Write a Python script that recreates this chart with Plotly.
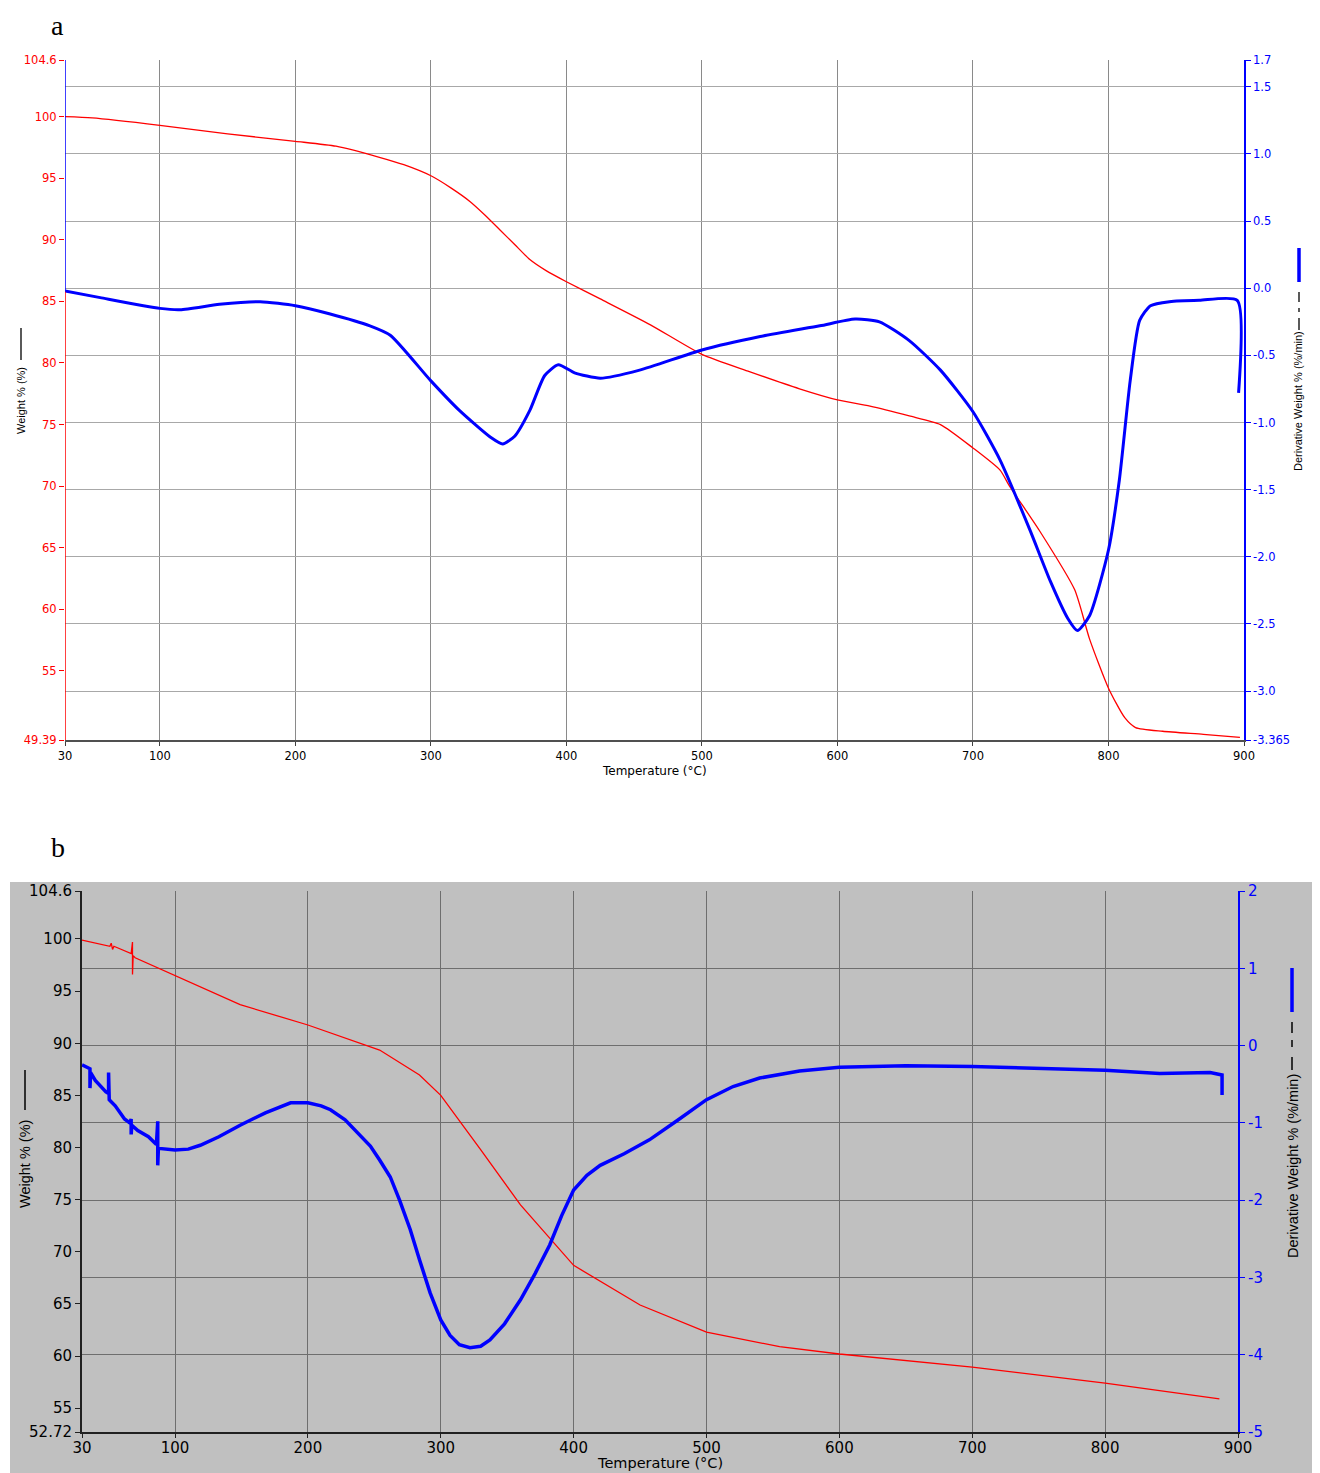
import plotly.graph_objects as go

# page body has an 8px margin, so the figure is 8px smaller and coordinates are shifted by 8px
OFF = 8
W, H = 1320 - OFF, 1473 - OFF

# ---------------- Panel a data ----------------
a_weight_T = [30, 50, 100, 150, 200, 230, 262, 280, 300, 315, 329, 340, 351, 362, 373, 385, 400, 425,
              462, 500, 535, 572, 600, 624, 653, 676, 700, 720, 727, 749, 775, 786, 800, 812, 820, 840, 870, 897]
a_weight = [100.0, 99.9, 99.3, 98.6, 98.0, 97.6, 96.7, 96.1, 95.2, 94.2, 93.1, 92.0, 90.8, 89.6, 88.4, 87.5, 86.6, 85.2,
            83.1, 80.7, 79.3, 77.9, 77.0, 76.5, 75.7, 75.0, 73.1, 71.3, 70.0, 66.4, 61.6, 57.6, 53.6, 51.2, 50.4, 50.1, 49.85, 49.6]

a_deriv_T = [30, 56, 100, 115, 144, 174, 200, 225, 255, 270, 300, 321, 344, 353, 362, 373, 384, 394, 406, 425,
             454, 500, 543, 587, 613, 631, 653, 676, 700, 720, 742, 757, 770, 777, 786, 800, 808, 816, 823, 831,
             845, 867, 895, 896]
a_deriv = [-0.02, -0.07, -0.15, -0.16, -0.12, -0.10, -0.13, -0.19, -0.28, -0.35, -0.69, -0.91, -1.11, -1.16, -1.10,
           -0.91, -0.65, -0.57, -0.63, -0.67, -0.61, -0.46, -0.36, -0.28, -0.23, -0.25, -0.39, -0.61, -0.92, -1.28,
           -1.80, -2.18, -2.46, -2.55, -2.44, -1.95, -1.43, -0.69, -0.24, -0.13, -0.10, -0.09, -0.09, -0.78]

a_x_ticks = [30, 100, 200, 300, 400, 500, 600, 700, 800, 900]
a_left_ticks = [104.6, 100, 95, 90, 85, 80, 75, 70, 65, 60, 55, 49.39]
a_left_labels = ["104.6", "100", "95", "90", "85", "80", "75", "70", "65", "60", "55", "49.39"]
a_right_ticks = [1.7, 1.5, 1.0, 0.5, 0.0, -0.5, -1.0, -1.5, -2.0, -2.5, -3.0, -3.365]
a_right_labels = ["1.7", "1.5", "1.0", "0.5", "0.0", "-0.5", "-1.0", "-1.5", "-2.0", "-2.5", "-3.0", "-3.365"]

# ---------------- Panel b data ----------------
b_weight_T = [30, 45, 51, 52, 53, 54, 60, 67, 68, 68, 68.5, 70, 100, 149, 200, 254, 284, 300, 330, 360, 400, 450,
              500, 555, 600, 700, 800, 886]
b_weight = [99.9, 99.5, 99.3, 99.6, 99.0, 99.3, 99.0, 98.6, 99.7, 96.6, 98.4, 98.2, 96.5, 93.7, 91.75, 89.35, 86.95,
            85.0, 79.8, 74.5, 68.7, 64.9, 62.3, 60.9, 60.2, 58.95, 57.4, 55.9]

b_deriv_T = [30, 34, 36, 36, 36.5, 40, 48, 50, 50, 50.5, 55, 62, 66, 67, 67, 67.5, 72, 80, 86, 87, 87, 87.5, 100,
             110, 119, 133, 149, 168, 187, 200, 210, 217, 228, 239, 247, 254, 262, 269, 277, 284, 292, 300, 307,
             314, 322, 330, 337, 348, 360, 371, 382, 391, 400, 410, 420, 438, 457, 478, 500, 520, 540, 570,
             600, 650, 700, 800, 841, 879, 888, 888]
b_deriv = [-0.25, -0.28, -0.30, -0.55, -0.35, -0.45, -0.60, -0.62, -0.35, -0.70, -0.78, -0.95, -1.00, -0.95, -1.15,
           -1.03, -1.10, -1.18, -1.28, -0.98, -1.55, -1.33, -1.35, -1.34, -1.29, -1.18, -1.03, -0.87, -0.74, -0.74,
           -0.78, -0.83, -0.96, -1.16, -1.30, -1.48, -1.70, -2.00, -2.38, -2.77, -3.20, -3.55, -3.75,
           -3.87, -3.91, -3.89, -3.81, -3.60, -3.29, -2.95, -2.58, -2.20, -1.87, -1.68, -1.55, -1.40, -1.22, -0.97,
           -0.70, -0.53, -0.42, -0.33, -0.28, -0.26, -0.27, -0.32, -0.36, -0.35, -0.38, -0.64]

b_x_ticks = [30, 100, 200, 300, 400, 500, 600, 700, 800, 900]
b_left_ticks = [104.6, 100, 95, 90, 85, 80, 75, 70, 65, 60, 55, 52.72]
b_left_labels = ["104.6", "100", "95", "90", "85", "80", "75", "70", "65", "60", "55", "52.72"]
b_right_ticks = [2, 1, 0, -1, -2, -3, -4, -5]
b_right_labels = ["2", "1", "0", "-1", "-2", "-3", "-4", "-5"]

# ---------------- geometry (reference pixel -> paper fraction) ----------------
def px_x(p):
    return (p - OFF) / W

def px_y(p):
    return 1 - (p - OFF) / H

A_X = [px_x(65), px_x(1244)]
A_Y = [px_y(740), px_y(60)]
B_X = [px_x(82), px_x(1238)]
B_Y = [px_y(1432), px_y(891)]

RED = "#ff0000"
BLUE = "#0000ff"
FONT = "DejaVu Sans, Verdana, sans-serif"
NARROW = "Liberation Sans, Arial, sans-serif"

fig = go.Figure()
fig.add_trace(go.Scatter(x=a_weight_T, y=a_weight, mode="lines",
                         line=dict(color=RED, width=1.3, shape="spline", smoothing=0.6),
                         xaxis="x", yaxis="y", showlegend=False))
fig.add_trace(go.Scatter(x=a_deriv_T, y=a_deriv, mode="lines",
                         line=dict(color=BLUE, width=3, shape="spline", smoothing=0.6),
                         xaxis="x", yaxis="y2", showlegend=False))
fig.add_trace(go.Scatter(x=b_weight_T, y=b_weight, mode="lines", line=dict(color=RED, width=1.3),
                         xaxis="x2", yaxis="y3", showlegend=False))
fig.add_trace(go.Scatter(x=b_deriv_T, y=b_deriv, mode="lines", line=dict(color=BLUE, width=3.5),
                         xaxis="x2", yaxis="y4", showlegend=False))

fa = 11.5
fb = 15
common = dict(automargin=False, zeroline=False)
fig.update_layout(
    width=W, height=H,
    margin=dict(l=0, r=0, t=0, b=0, autoexpand=False),
    paper_bgcolor="white",
    plot_bgcolor="rgba(0,0,0,0)",
    font=dict(family=FONT, color="black"),
    xaxis=dict(domain=A_X, anchor="y", range=[30, 900], tickvals=a_x_ticks,
               ticktext=[str(v) for v in a_x_ticks], showgrid=True, gridcolor="#8a8a8a", gridwidth=1,
               showline=True, linecolor="#505050", linewidth=1.5, ticks="outside", ticklen=4,
               tickcolor="#404040", tickfont=dict(size=fa, color="black"), **common),
    yaxis=dict(domain=A_Y, anchor="x", range=[49.39, 104.6], tickvals=a_left_ticks, ticktext=a_left_labels,
               showgrid=False, showline=False, ticks="outside", ticklen=5,
               tickcolor=RED, tickfont=dict(size=fa, color=RED), **common),
    yaxis2=dict(overlaying="y", side="right", anchor="x", range=[-3.365, 1.7], tickvals=a_right_ticks,
                ticktext=a_right_labels, showgrid=True, gridcolor="#a8a8a8", gridwidth=1,
                showline=True, linecolor=BLUE, linewidth=1.5, ticks="outside", ticklen=5,
                tickcolor=BLUE, tickfont=dict(size=fa, color=BLUE), **common),
    xaxis2=dict(domain=B_X, anchor="y3", range=[30, 900], tickvals=b_x_ticks,
                ticktext=[str(v) for v in b_x_ticks], showgrid=True, gridcolor="#6e6e6e", gridwidth=1,
                showline=True, linecolor="#202020", linewidth=2, ticks="outside", ticklen=4,
                ticklabelstandoff=-3,
                tickcolor="#202020", tickfont=dict(size=fb, color="black"), **common),
    yaxis3=dict(domain=B_Y, anchor="x2", range=[52.72, 104.6], tickvals=b_left_ticks, ticktext=b_left_labels,
                showgrid=False, showline=True, linecolor="#202020", linewidth=2, ticks="outside", ticklen=5,
                tickcolor="#202020", tickfont=dict(size=fb, color="black"), **common),
    yaxis4=dict(overlaying="y3", side="right", anchor="x2", range=[-5, 2], tickvals=b_right_ticks,
                ticktext=b_right_labels, showgrid=True, gridcolor="#6e6e6e", gridwidth=1,
                showline=True, linecolor=BLUE, linewidth=2, ticks="outside", ticklen=5,
                tickcolor=BLUE, tickfont=dict(size=fb, color=BLUE), **common),
)


def vline(x, y0, y1, color, width):
    return dict(type="line", xref="paper", yref="paper", x0=px_x(x), x1=px_x(x), y0=px_y(y0), y1=px_y(y1),
                line=dict(color=color, width=width))


shapes = [
    # grey background of panel b
    dict(type="rect", xref="paper", yref="paper", x0=px_x(10), x1=1, y0=0, y1=px_y(882),
         fillcolor="#c0c0c0", line=dict(width=0), layer="below"),
    # left axis of panel a: red below the start of the derivative curve, blue above it
    dict(type="line", xref="x", yref="y", x0=30, x1=30, y0=49.39, y1=85.8,
         line=dict(color=RED, width=1.5)),
    dict(type="line", xref="x", yref="y", x0=30, x1=30, y0=85.8, y1=104.6,
         line=dict(color=BLUE, width=1.5)),
    # line-style keys next to the axis titles, panel a
    vline(21, 328, 360, "black", 1.3),
    vline(1299, 292, 302, "black", 1.3),
    vline(1299, 308, 312, "black", 1.3),
    vline(1299, 318, 330, "black", 1.3),
    vline(1299, 248, 282, BLUE, 3.5),
    # panel b
    vline(25, 1070, 1110, "black", 1.5),
    vline(1292, 1022, 1033, "black", 1.5),
    vline(1292, 1040, 1047, "black", 1.5),
    vline(1292, 1057, 1070, "black", 1.5),
    vline(1292, 968, 1012, BLUE, 3.5),
]
fig.update_layout(shapes=shapes)


def A(text, x, y, size, angle=0, family=None, yanchor="middle"):
    f = dict(size=size, color="black")
    if family:
        f["family"] = family
    return dict(text=text, x=px_x(x), y=px_y(y), xref="paper", yref="paper", showarrow=False,
                xanchor="center", yanchor=yanchor, textangle=angle, font=f)


SERIF = "Liberation Serif, Times New Roman, serif"
ann = [
    A("a", 57, 8, 28, family=SERIF, yanchor="top"),
    A("b", 58, 847, 28, family=SERIF),
    A("Temperature (°C)", 654, 771, 12),
    A("Temperature (°C)", 660, 1473, 14.5, yanchor="bottom"),
    A("Weight % (%)", 21, 401, 11, angle=-90, family=NARROW),
    A("Derivative Weight % (%/min)", 1298, 401, 11, angle=-90, family=NARROW),
    A("Weight % (%)", 25, 1164, 14.5, angle=-90, family=NARROW),
    A("Derivative Weight % (%/min)", 1293, 1166, 14.5, angle=-90, family=NARROW),
]
fig.update_layout(annotations=ann)

fig.write_html("out.html")
